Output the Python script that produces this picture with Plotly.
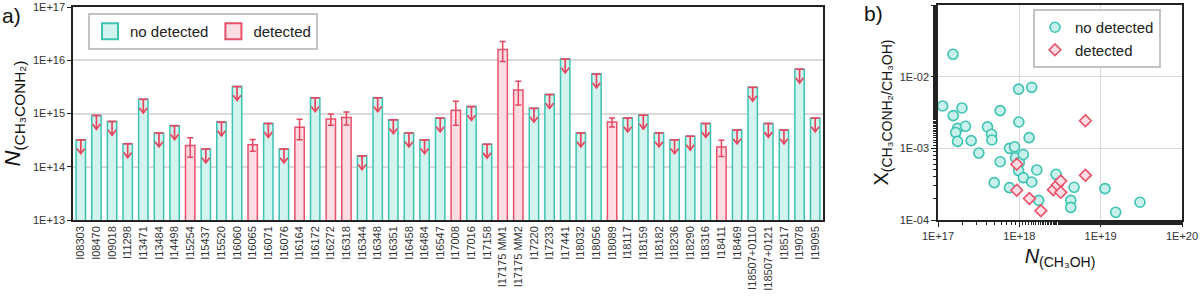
import math
import plotly.graph_objects as go

# ---------------- data: panel a ----------------
sources = ["I08303", "I08470", "I09018", "I11298", "I13471", "I13484", "I14498", "I15254",
           "I15437", "I15520", "I16060", "I16065", "I16071", "I16076", "I16164", "I16172",
           "I16272", "I16318", "I16344", "I16348", "I16351", "I16458", "I16484", "I16547",
           "I17008", "I17016", "I17158", "I17175 MM1", "I17175 MM2", "I17220", "I17233",
           "I17441", "I18032", "I18056", "I18089", "I18117", "I18159", "I18182", "I18236",
           "I18290", "I18316", "I18411", "I18469", "I18507+0110", "I18507+0121", "I18517",
           "I19078", "I19095"]
column_density = [3.2e14, 9.2e14, 7.1e14, 2.7e14, 1.85e15, 4.3e14, 5.9e14, 2.5e14,
                  2.15e14, 6.9e14, 3.2e15, 2.6e14, 6.5e14, 2.15e14, 5.5e14, 1.97e15,
                  7.9e14, 8.4e14, 1.6e14, 1.97e15, 7.6e14, 4.3e14, 3.2e14, 8.2e14,
                  1.15e15, 1.35e15, 2.65e14, 1.6e16, 2.75e15, 1.25e15, 2.27e15,
                  1.05e16, 4.3e14, 5.5e15, 6.9e14, 8.2e14, 9.3e14, 4.3e14, 3.2e14,
                  3.75e14, 6.5e14, 2.35e14, 4.9e14, 3.1e15, 6.5e14, 4.9e14,
                  6.8e15, 8.2e14]
detected_sources = ["I15254", "I16065", "I16164", "I16272", "I16318", "I17008",
                    "I17175 MM1", "I17175 MM2", "I18089", "I18411"]
detected_errors = [1.0e14, 0.65e14, 2.3e14, 1.9e14, 2.3e14, 5.5e14,
                   6.5e15, 1.3e15, 1.3e14, 0.8e14]
y_tick_vals_a = [1e13, 1e14, 1e15, 1e16, 1e17]
y_tick_text_a = ["1E+13", "1E+14", "1E+15", "1E+16", "1E+17"]

# ---------------- data: panel b ----------------
nd_n_ch3oh = [1.53e17, 1.14e17, 1.97e17, 1.54e17, 1.74e17, 1.65e17, 2.18e17, 1.74e17,
              2.56e17, 3.18e17, 4.06e17, 4.55e17, 4.6e17, 5.82e17, 5.82e17, 4.91e17,
              7.57e17, 7.57e17, 8.73e17, 8.98e17, 1.0e18, 9.8e17, 9.8e17, 9.86e17,
              1.12e18, 1.12e18, 1.32e18, 1.42e18, 1.42e18, 1.64e18, 1.73e18, 2.83e18,
              4.71e18, 4.29e18, 4.29e18, 1.13e19, 1.53e19, 3.04e19]
nd_ratio = [2.05e-2, 3.9e-3, 3.66e-3, 2.86e-3, 1.9e-3, 1.66e-3, 2.03e-3, 1.25e-3,
            1.28e-3, 8.6e-4, 1.99e-3, 1.57e-3, 1.31e-3, 3.36e-3, 6.5e-4, 3.32e-4,
            2.83e-4, 1.0e-3, 1.05e-3, 7.4e-4, 6.3e-4, 4.9e-4, 6.7e-3, 2.33e-3,
            8.2e-4, 3.9e-4, 1.41e-3, 7.1e-3, 3.39e-4, 4.99e-4, 1.88e-4, 4.34e-4,
            2.86e-4, 1.88e-4, 1.5e-4, 2.74e-4, 1.28e-4, 1.77e-4]
d_n_ch3oh = [9.3e17, 9.3e17, 1.33e18, 1.84e18, 2.62e18, 2.94e18, 3.23e18, 3.23e18,
             6.49e18, 6.49e18]
d_ratio = [6.0e-4, 2.6e-4, 1.99e-4, 1.35e-4, 2.65e-4, 3.08e-4, 3.5e-4, 2.43e-4,
           2.43e-3, 4.2e-4]
x_tick_vals_b = [1e17, 1e18, 1e19, 1e20]
x_tick_text_b = ["1E+17", "1E+18", "1E+19", "1E+20"]
y_tick_vals_b = [1e-4, 1e-3, 1e-2, 1e-1]
y_tick_text_b = ["1E-04", "1E-03", "1E-02", "1E-01"]

# ---------------- styles ----------------
FONT = "Liberation Sans, Arial, sans-serif"
TEAL_LINE = "#3ec3b2"
TEAL_FILL = "#d3f3ee"
RED_LINE = "#e9506a"
PINK_FILL = "#fcdde3"
ARROW_RED = "#e84660"
GRID = "#dadada"
AXIS = "#222222"
ARROW_FACTOR = 0.55   # arrow tip relative to bar top (upper-limit marker)
HEAD_FACTOR = 1.25    # arrow-head arm height (multiplicative, log axis)
HEAD_HALF = 0.25      # arrow-head half width (category units)
CAP_HALF = 0.28       # cap half width (category units)

det_set = set(detected_sources)
nd_idx = [i for i, s in enumerate(sources) if s not in det_set]
nd_x = [sources[i] for i in nd_idx]
nd_y = [column_density[i] for i in nd_idx]
d_x = [s for s in sources if s in det_set]
d_y = [v for s, v in zip(sources, column_density) if s in det_set]
err_map = dict(zip(detected_sources, detected_errors))
d_err = [err_map[s] for s in d_x]

# upper-limit arrows (cap + shaft + chevron head), derived from bar values
arr_x, arr_y = [], []
for i, v in zip(nd_idx, nd_y):
    tip = v * ARROW_FACTOR
    arr_x += [i - CAP_HALF, i + CAP_HALF, None, i, i, None,
              i - HEAD_HALF, i, i + HEAD_HALF, None]
    arr_y += [v, v, None, v, tip, None,
              tip * HEAD_FACTOR, tip, tip * HEAD_FACTOR, None]

fig = go.Figure()

fig.add_trace(go.Bar(
    x=nd_x, y=nd_y, name="no detected", showlegend=False,
    marker=dict(color=TEAL_FILL, line=dict(color=TEAL_LINE, width=1.5)),
    xaxis="x", yaxis="y"))
fig.add_trace(go.Bar(
    x=d_x, y=d_y, name="detected", showlegend=False,
    marker=dict(color=PINK_FILL, line=dict(color=RED_LINE, width=1.5)),
    error_y=dict(type="data", array=d_err, visible=True, color=ARROW_RED,
                 thickness=1.5, width=3),
    xaxis="x", yaxis="y"))

# legend entries (square swatches) for panel a
fig.add_trace(go.Scatter(
    x=[None], y=[None], mode="markers", name="no detected", legend="legend",
    marker=dict(symbol="square", size=16, color=TEAL_FILL,
                line=dict(color=TEAL_LINE, width=2)),
    xaxis="x", yaxis="y"))
fig.add_trace(go.Scatter(
    x=[None], y=[None], mode="markers", name="detected", legend="legend",
    marker=dict(symbol="square", size=16, color=PINK_FILL,
                line=dict(color=RED_LINE, width=2)),
    xaxis="x", yaxis="y"))

fig.add_trace(go.Scatter(
    x=arr_x, y=arr_y, mode="lines", showlegend=False, hoverinfo="skip",
    line=dict(color=ARROW_RED, width=1.7), connectgaps=False,
    xaxis="x3", yaxis="y"))

# panel b
fig.add_trace(go.Scatter(
    x=nd_n_ch3oh, y=nd_ratio, mode="markers", name="no detected", legend="legend2",
    marker=dict(symbol="circle", size=10, color="#c9f1eb",
                line=dict(color=TEAL_LINE, width=1.6)),
    xaxis="x2", yaxis="y2"))
fig.add_trace(go.Scatter(
    x=d_n_ch3oh, y=d_ratio, mode="markers", name="detected", legend="legend2",
    marker=dict(symbol="diamond", size=9, color=PINK_FILL,
                line=dict(color=RED_LINE, width=1.6)),
    xaxis="x2", yaxis="y2"))

annotations = [
    dict(text="a)", x=0.0, y=1 - 16 / 299, xref="paper", yref="paper",
         xanchor="left", yanchor="middle", showarrow=False,
         font=dict(size=21, color="#111", family=FONT)),
    dict(text="b)", x=862 / 1200, y=1 - 14 / 299, xref="paper", yref="paper",
         xanchor="left", yanchor="middle", showarrow=False,
         font=dict(size=21, color="#111", family=FONT)),
]

DOM_A = [73 / 1200, 823 / 1200]

fig.update_layout(
    template="none",
    width=1200, height=299,
    margin=dict(l=0, r=0, t=0, b=0, pad=0, autoexpand=False),
    paper_bgcolor="white", plot_bgcolor="white",
    font=dict(family=FONT, size=11, color="#222"),
    barmode="overlay", bargap=0.4,
    annotations=annotations,
    xaxis=dict(domain=DOM_A, anchor="y", type="category",
               categoryorder="array", categoryarray=sources,
               range=[-0.5, len(sources) - 0.5], autorange=False,
               tickangle=-90, ticks="", showgrid=False,
               showline=True, mirror=True, linecolor=AXIS, linewidth=1.5,
               tickfont=dict(size=11, color="#333"), automargin=False),
    xaxis3=dict(domain=DOM_A, anchor="y", overlaying="x", type="linear",
                range=[-0.5, len(sources) - 0.5], autorange=False,
                visible=False, showgrid=False, zeroline=False),
    yaxis=dict(domain=[1 - 220 / 299, 1 - 7 / 299], anchor="x", type="log",
               range=[13, 17], autorange=False,
               tickvals=y_tick_vals_a, ticktext=y_tick_text_a,
               showgrid=True, gridcolor=GRID, gridwidth=1.5,
               ticks="outside", ticklen=4, tickcolor=AXIS,
               showline=True, mirror=True, linecolor=AXIS, linewidth=1.5,
               tickfont=dict(size=11, color="#333"), zeroline=False,
               title=dict(text="<i>N</i><sub>(CH₃CONH₂)</sub>",
                          font=dict(size=22, color="#111"), standoff=6),
               automargin=False),
    xaxis2=dict(domain=[938 / 1200, 1182 / 1200], anchor="y2", type="log",
                range=[17, 20], autorange=False,
                tickvals=x_tick_vals_b, ticktext=x_tick_text_b,
                showgrid=True, gridcolor=GRID, gridwidth=1.2,
                ticks="outside", ticklen=5, tickcolor=AXIS,
                minor=dict(ticks="outside", ticklen=3, tickcolor=AXIS, showgrid=False),
                showline=True, mirror=True, linecolor=AXIS, linewidth=1.5,
                tickfont=dict(size=11, color="#333"), zeroline=False,
                title=dict(text="<i>N</i><sub>(CH₃OH)</sub>",
                           font=dict(size=20, color="#111"), standoff=8),
                automargin=False),
    yaxis2=dict(domain=[1 - 220 / 299, 1 - 5 / 299], anchor="x2", type="log",
                range=[-4, -1], autorange=False,
                tickvals=y_tick_vals_b, ticktext=y_tick_text_b,
                showgrid=True, gridcolor=GRID, gridwidth=1.2,
                ticks="outside", ticklen=5, tickcolor=AXIS,
                minor=dict(ticks="outside", ticklen=3, tickcolor=AXIS, showgrid=False),
                showline=True, mirror=True, linecolor=AXIS, linewidth=1.5,
                tickfont=dict(size=11, color="#333"), zeroline=False,
                title=dict(text="X<sub>(CH₃CONH₂/CH₃OH)</sub>",
                           font=dict(size=20, color="#111"), standoff=6),
                automargin=False),
    legend=dict(x=88 / 1200, y=1 - 13 / 299, xanchor="left", yanchor="top",
                orientation="h", bgcolor="white", bordercolor="#c4c4c4", borderwidth=2,
                font=dict(size=15, color="#222"), itemsizing="trace"),
    legend2=dict(x=1033 / 1200, y=1 - 9 / 299, xanchor="left", yanchor="top",
                 orientation="v", bgcolor="white", bordercolor="#c4c4c4", borderwidth=2,
                 font=dict(size=15, color="#222"), itemsizing="trace",
                 tracegroupgap=0),
)

fig.write_html("out.html",
               config={"displayModeBar": False},
               post_script="document.body.style.margin='0';document.body.style.padding='0';")
